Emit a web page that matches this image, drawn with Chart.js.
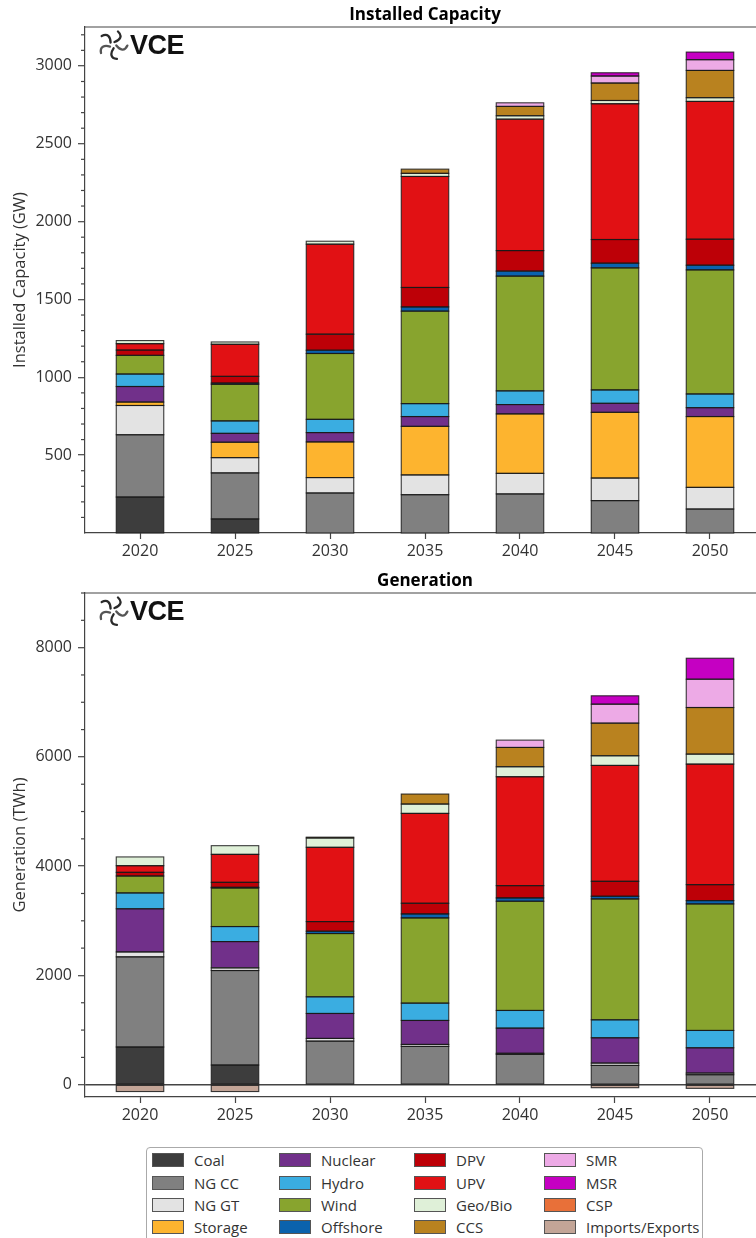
<!DOCTYPE html>
<html>
<head>
<meta charset="utf-8">
<script src="https://cdn.jsdelivr.net/npm/chart.js@4/dist/chart.umd.min.js"></script>
<style>
  html, body { margin: 0; padding: 0; background: #fff; }
  body { width: 756px; height: 1238px; overflow: hidden; position: relative; font-family: 'Open Sans', sans-serif; }
  canvas { position: absolute; left: 0; }
  #capChart { top: 0; }
  #genChart { top: 566px; }
  .logo { position: absolute; left: 97px; height: 30px; }
  .logo svg { position: absolute; left: 0; top: 0; }
  .logo span { position: absolute; left: 33px; top: 2px; font-family: 'Liberation Sans', Arial, sans-serif; font-weight: bold; font-size: 27px; line-height: 27px; color: #111; letter-spacing: -0.5px; }
  #legend { position: absolute; left: 146px; top: 1147px; width: 557px; height: 110px; border: 1px solid #aaa; border-radius: 4px; box-sizing: border-box; padding: 1px 0 0 5px; display: grid; grid-auto-flow: column; grid-template-rows: repeat(4, 22.4px); grid-template-columns: 127px 135px 130px auto; }
  .item { display: flex; align-items: center; font-size: 15px; color: #333; white-space: nowrap; }
  .sw { width: 30px; height: 12px; border: 1px solid #555; margin-right: 10px; flex: none; }
</style>
</head>
<body>
<canvas id="capChart" width="850" height="570"></canvas>
<canvas id="genChart" width="850" height="568"></canvas>

<div class="logo" style="top:30px"></div>
<div class="logo" style="top:596px"></div>
<div id="legend"></div>

<script>
// Model years on the x axis
const years = ['2020', '2025', '2030', '2035', '2040', '2045', '2050'];
const capacityTicks = [500, 1000, 1500, 2000, 2500, 3000];
const generationTicks = [0, 2000, 4000, 6000, 8000];

// Technologies, bottom of the stack first
const seriesNames = ['Coal', 'NG CC', 'NG GT', 'Storage', 'Nuclear', 'Hydro', 'Wind', 'Offshore',
                     'DPV', 'UPV', 'Geo/Bio', 'CCS', 'SMR', 'MSR', 'CSP', 'Imports/Exports'];
const seriesColors = ['#3d3d3d', '#808080', '#e3e3e3', '#fdb42f', '#71308a', '#3aade1', '#88a42e', '#0b62ad',
                      '#bd0007', '#e11114', '#dff0d8', '#b9821f', '#edaae6', '#c500c2', '#e87039', '#c3a597'];

// Installed capacity, GW
const capCoal     = [231,  90,   0,   0,   0,   0,   0];
const capNgCc     = [400, 296, 257, 246, 251, 208, 154];
const capNgGt     = [188,  98,  99, 127, 132, 145, 139];
const capStorage  = [ 22,  99, 229, 312, 382, 422, 455];
const capNuclear  = [100,  57,  60,  63,  60,  58,  57];
const capHydro    = [ 80,  80,  85,  83,  88,  86,  88];
const capWind     = [120, 235, 423, 594, 737, 784, 797];
const capOffshore = [  0,   8,  21,  27,  32,  30,  30];
const capDpv      = [ 34,  43, 103, 125, 132, 152, 167];
const capUpv      = [ 41, 206, 578, 713, 844, 872, 885];
const capGeoBio   = [ 20,  15,  19,  20,  22,  21,  24];
const capCcs      = [  0,   0,   0,  27,  60, 112, 175];
const capSmr      = [  0,   0,   0,   0,  23,  45,  69];
const capMsr      = [  0,   0,   0,   0,   0,  21,  49];
const capCsp      = [  0,   0,   0,   0,   0,   0,   0];
const capImports  = [  0,   0,   0,   0,   0,   0,   0];

// Generation, TWh
const genCoal     = [ 690,  360,    0,    0,    0,    0,    0];
const genNgCc     = [1650, 1730,  798,  701,  555,  353,  183];
const genNgGt     = [  90,   49,   49,   36,   20,   43,   30];
const genStorage  = [   0,    0,    0,    0,    0,    0,    0];
const genNuclear  = [ 790,  481,  457,  439,  461,  463,  463];
const genHydro    = [ 290,  275,  305,  317,  323,  329,  317];
const genWind     = [ 310,  706, 1158, 1560, 1999, 2212, 2316];
const genOffshore = [   0,   12,   42,   73,   61,   49,   61];
const genDpv      = [  67,   91,  177,  195,  225,  274,  292];
const genUpv      = [ 122,  512, 1359, 1645, 1993, 2121, 2206];
const genGeoBio   = [ 160,  159,  171,  171,  183,  177,  183];
const genCcs      = [   0,    0,   15,  183,  353,  597,  853];
const genSmr      = [   0,    0,    0,    0,  134,  347,  518];
const genMsr      = [   0,    0,    0,    0,    0,  153,  384];
const genCsp      = [   0,    0,    0,    0,    0,    0,    0];
const genImports  = [-125, -125,    0,    0,    0,  -55,  -67];

const capacitySeries = [capCoal, capNgCc, capNgGt, capStorage, capNuclear, capHydro, capWind, capOffshore,
                        capDpv, capUpv, capGeoBio, capCcs, capSmr, capMsr, capCsp, capImports];
const generationSeries = [genCoal, genNgCc, genNgGt, genStorage, genNuclear, genHydro, genWind, genOffshore,
                          genDpv, genUpv, genGeoBio, genCcs, genSmr, genMsr, genCsp, genImports];

Chart.defaults.font.family = "'Open Sans', sans-serif";
Chart.defaults.font.size = 16;
Chart.defaults.color = '#333';

const AXIS = '#444';

// Outline each stacked segment with one shared edge line
const segmentOutlines = {
  id: 'segmentOutlines',
  afterDatasetsDraw(chart) {
    const { ctx } = chart;
    ctx.save();
    ctx.strokeStyle = 'rgba(25,25,25,0.85)';
    ctx.lineWidth = 1.1;
    chart.data.datasets.forEach((ds, i) => {
      chart.getDatasetMeta(i).data.forEach(el => {
        const { x, y, base, width } = el.getProps(['x', 'y', 'base', 'width'], true);
        if (Math.abs(y - base) < 0.05) return;
        ctx.strokeRect(x - width / 2, Math.min(y, base), width, Math.abs(base - y));
      });
    });
    ctx.restore();
  }
};

// Short minor tick marks on the y axis and the top edge of the frame
const frameAndMinorTicks = {
  id: 'frameAndMinorTicks',
  afterDraw(chart, args, opts) {
    const { ctx, chartArea: a } = chart;
    const y = chart.scales.y;
    ctx.save();
    ctx.strokeStyle = AXIS;
    ctx.lineWidth = 1.2;
    const start = Math.ceil(y.min / opts.minor) * opts.minor;
    for (let v = start; v <= y.max; v += opts.minor) {
      if (v % opts.major === 0) continue;
      const py = y.getPixelForValue(v);
      ctx.beginPath();
      ctx.moveTo(a.left - 4, py);
      ctx.lineTo(a.left, py);
      ctx.stroke();
    }
    ctx.beginPath();
    ctx.moveTo(a.left, a.top);
    ctx.lineTo(a.right, a.top);
    ctx.lineTo(a.right, a.bottom);
    ctx.stroke();
    ctx.restore();
  }
};

function buildChart(id, title, yTitle, series, yMin, yMax, majorTicks, minor, zeroLine) {
  const yearNums = years.map(Number);
  const half = 2.895; // space between the axis frame and the outer bars, in years
  return new Chart(document.getElementById(id), {
    type: 'bar',
    data: {
      labels: years,
      datasets: seriesNames.map((name, i) => ({
        label: name,
        data: series[i],
        backgroundColor: seriesColors[i],
        borderWidth: 0,
        inflateAmount: 0,
        stack: 'all',
        barPercentage: 0.5,
        categoryPercentage: 1.0
      }))
    },
    options: {
      responsive: false,
      animation: false,
      events: [],
      devicePixelRatio: 1,
      layout: { padding: 0 },
      plugins: {
        legend: { display: false },
        tooltip: { enabled: false },
        title: {
          display: true, text: title, color: '#000',
          font: { size: 17, weight: 'bold' },
          padding: { top: 5, bottom: 1.6 }
        },
        frameAndMinorTicks: { minor: minor, major: majorTicks[1] - majorTicks[0] }
      },
      scales: {
        x: {
          type: 'linear',
          offset: false,
          min: yearNums[0] - half,
          max: yearNums[yearNums.length - 1] + half,
          afterBuildTicks: s => { s.ticks = yearNums.map(v => ({ value: v })); },
          afterFit: s => { s.height = 37; },
          ticks: { callback: v => String(v), padding: 3, color: '#333' },
          grid: { offset: false, drawOnChartArea: false, tickLength: 6, tickColor: AXIS, tickWidth: 1.2 },
          border: { display: true, color: AXIS, width: 1.2 }
        },
        y: {
          stacked: true,
          min: yMin,
          max: yMax,
          afterBuildTicks: s => { s.ticks = majorTicks.map(v => ({ value: v })); },
          afterFit: s => { s.width = 85; },
          ticks: { callback: v => String(v), padding: 6, color: '#333' },
          title: { display: true, text: yTitle, color: '#333', font: { size: 16.5 }, padding: { top: 10, bottom: 0 } },
          grid: {
            drawOnChartArea: zeroLine,
            color: c => (c.tick && c.tick.value === 0) ? '#444' : 'rgba(0,0,0,0)',
            lineWidth: 1.4,
            tickLength: 7, tickColor: AXIS, tickWidth: 1.2
          },
          border: { display: true, color: AXIS, width: 1.2 }
        },
        // empty margin on the right so the plot sits in the middle of the figure
        yRight: {
          type: 'linear',
          position: 'right',
          afterFit: s => { s.width = 85; },
          ticks: { display: false },
          grid: { display: false, drawTicks: false },
          border: { display: false }
        }
      }
    },
    plugins: [segmentOutlines, frameAndMinorTicks]
  });
}

buildChart('capChart', 'Installed Capacity', 'Installed Capacity (GW)', capacitySeries, 0, 3250, capacityTicks, 100, false);
buildChart('genChart', 'Generation', 'Generation (TWh)', generationSeries, -225, 9000, generationTicks, 500, true);

// VCE logo mark
const swirl = `<svg width="32" height="30" viewBox="-16 -15 32 30">
  <g fill="none" stroke-linecap="round">
    ${[0, 72, 144, 216, 288].map((r, k) =>
      `<path d="M1.5,-3 C7,-5 10,-9 5,-13.5" stroke="${k % 2 ? '#555' : '#2a2a2a'}" stroke-width="2.3" transform="rotate(${r})"/>`).join('')}
  </g></svg>`;
document.querySelectorAll('.logo').forEach(el => { el.innerHTML = swirl + '<span>VCE</span>'; });

// Legend, filled column by column
const legend = document.getElementById('legend');
seriesNames.forEach((name, i) => {
  const item = document.createElement('div');
  item.className = 'item';
  item.innerHTML = `<span class="sw" style="background:${seriesColors[i]}"></span>${name}`;
  legend.appendChild(item);
});
</script>
</body>
</html>
